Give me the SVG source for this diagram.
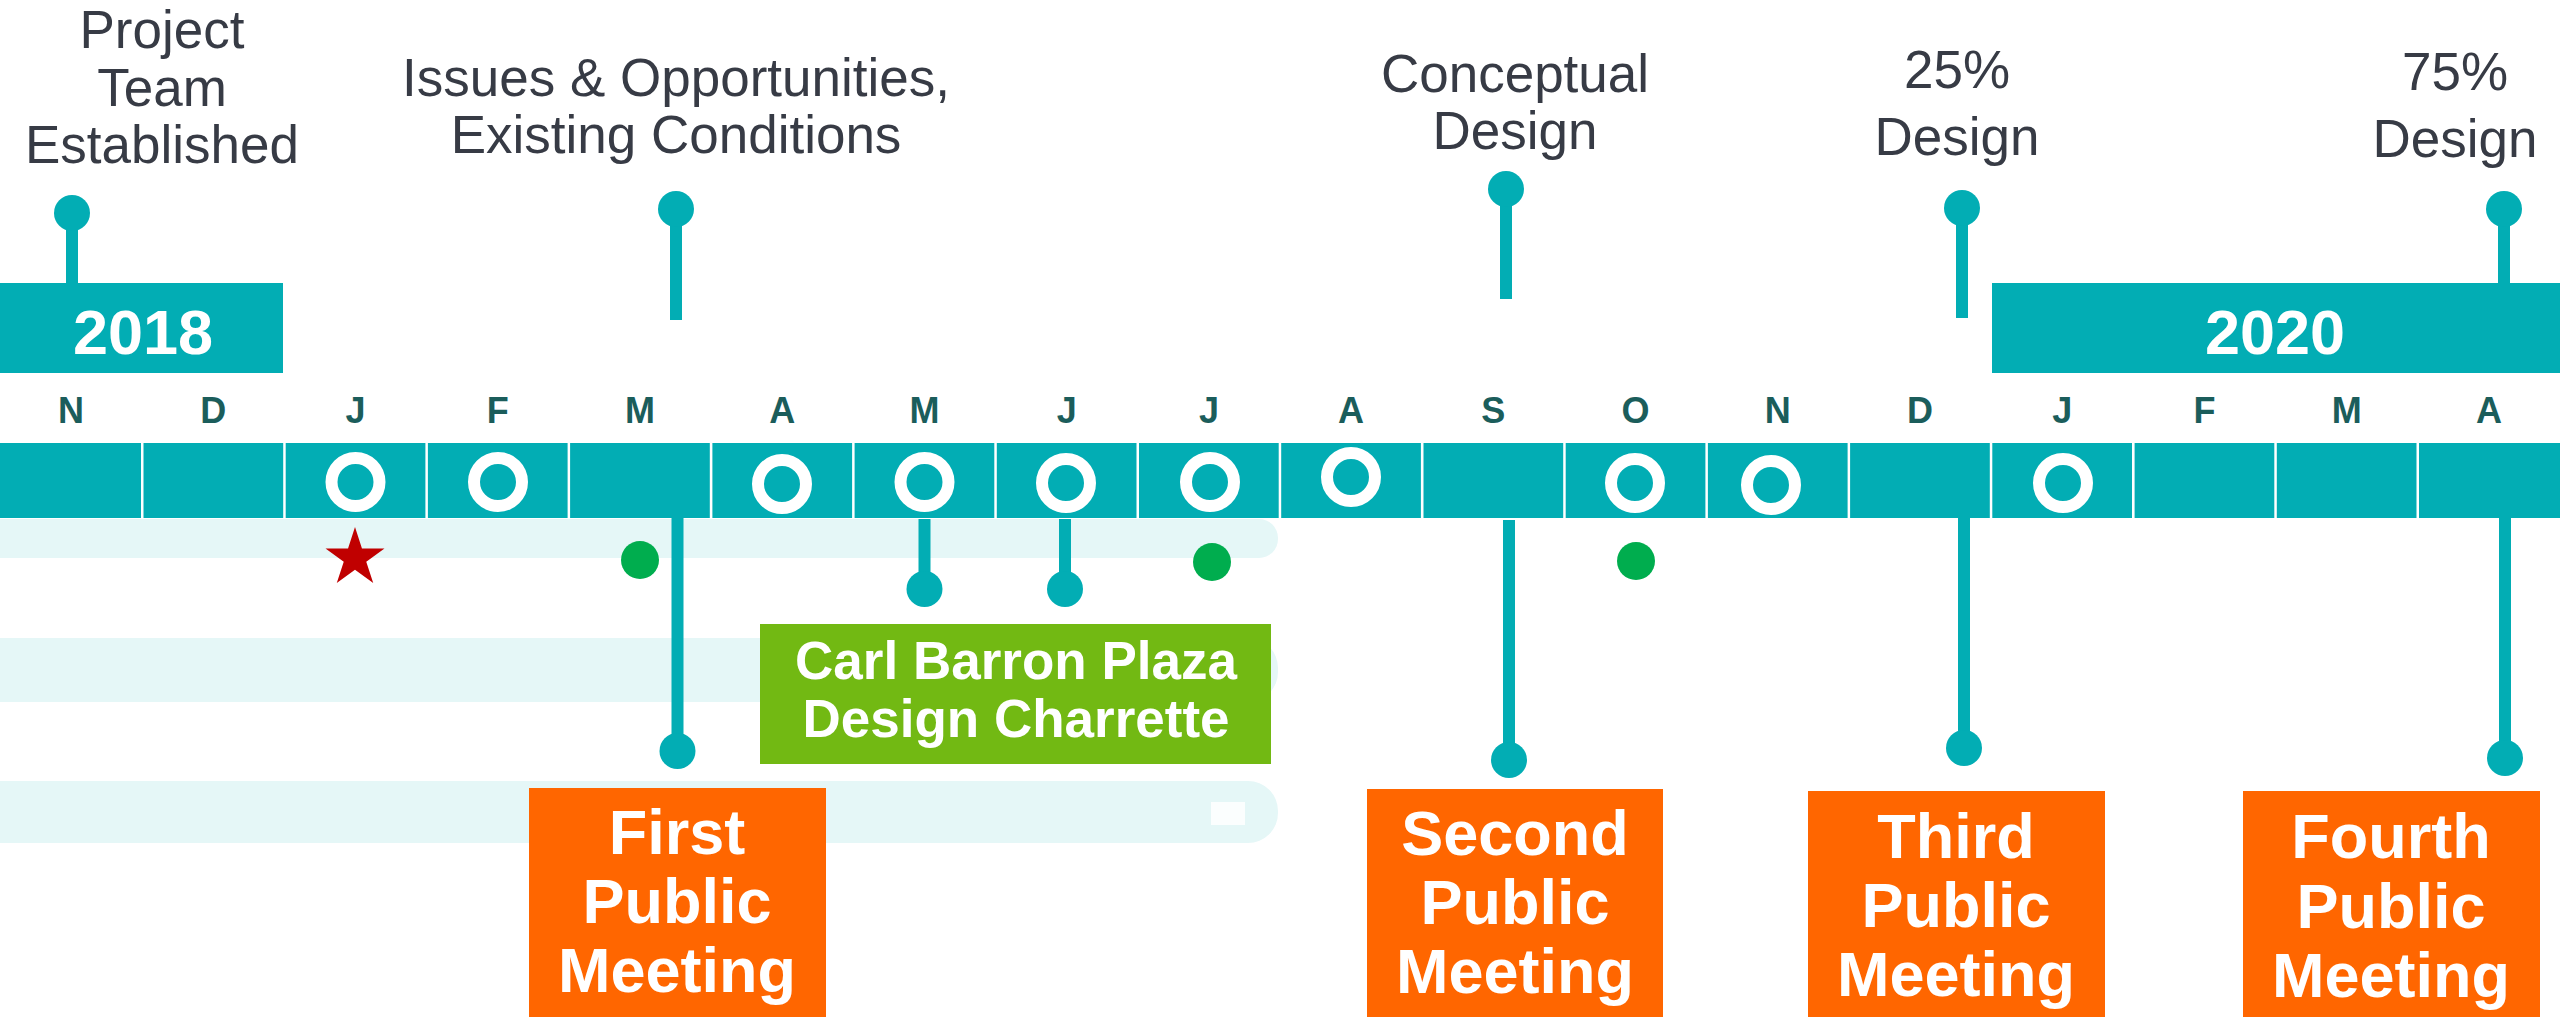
<svg xmlns="http://www.w3.org/2000/svg" width="2560" height="1017" viewBox="0 0 2560 1017">
<style>
.lbl{font-family:"Liberation Sans",Arial,sans-serif;font-size:53px;fill:#373b45;text-anchor:middle}
.yr{font-family:"Liberation Sans",Arial,sans-serif;font-size:63px;font-weight:bold;fill:#fff;text-anchor:middle}
.mo{font-family:"Liberation Sans",Arial,sans-serif;font-size:36px;font-weight:bold;fill:#1b5d5b;text-anchor:middle}
.box{font-family:"Liberation Sans",Arial,sans-serif;font-size:63px;font-weight:bold;fill:#fff;text-anchor:middle}
.gbox{font-family:"Liberation Sans",Arial,sans-serif;font-size:53px;font-weight:bold;fill:#fff;text-anchor:middle}
.cell{fill:#02adb4}
.ring{fill:none;stroke:#fff;stroke-width:12}
.band{fill:#e5f7f7}
.stem{stroke:#02adb4;stroke-width:12;fill:none}
.head{fill:#02adb4}
.dot{fill:#00ad4e}
.orange{fill:#ff6600}
</style>
<rect width="2560" height="1017" fill="#fff"/>
<g id="bands">
<rect class="band" x="-40" y="519" width="1318" height="39" rx="19"/>
<rect class="band" x="-40" y="638" width="1318" height="64" rx="30"/>
<rect class="band" x="-40" y="781" width="1318" height="62" rx="30"/>
<rect x="1211" y="802" width="34" height="23" fill="#fbfefe"/>
</g>
<g id="connectors">
<line class="stem" x1="72" y1="213" x2="72" y2="284"/>
<line class="stem" x1="676" y1="209" x2="676" y2="320"/>
<line class="stem" x1="1506" y1="189" x2="1506" y2="299"/>
<line class="stem" x1="1962" y1="208" x2="1962" y2="318"/>
<line class="stem" x1="2504" y1="209" x2="2504" y2="284"/>
<line class="stem" x1="677.5" y1="517" x2="677.5" y2="751"/>
<line class="stem" x1="924.5" y1="519" x2="924.5" y2="589"/>
<line class="stem" x1="1065" y1="519" x2="1065" y2="589"/>
<line class="stem" x1="1509" y1="520" x2="1509" y2="760"/>
<line class="stem" x1="1964" y1="517" x2="1964" y2="748"/>
<line class="stem" x1="2505" y1="517" x2="2505" y2="758"/>
</g>
<g id="year-2018">
<rect x="0" y="283" width="283" height="90" class="cell"/>
<text class="yr" x="143" y="354">2018</text>
</g>
<g id="year-2020">
<rect x="1992" y="283" width="568" height="90" class="cell"/>
<text class="yr" x="2275" y="354">2020</text>
</g>
<g id="months">
<g id="month-labels">
<text class="mo" x="71.1" y="423">N</text>
<text class="mo" x="213.3" y="423">D</text>
<text class="mo" x="355.6" y="423">J</text>
<text class="mo" x="497.8" y="423">F</text>
<text class="mo" x="640" y="423">M</text>
<text class="mo" x="782.2" y="423">A</text>
<text class="mo" x="924.4" y="423">M</text>
<text class="mo" x="1066.7" y="423">J</text>
<text class="mo" x="1208.9" y="423">J</text>
<text class="mo" x="1351.1" y="423">A</text>
<text class="mo" x="1493.3" y="423">S</text>
<text class="mo" x="1635.6" y="423">O</text>
<text class="mo" x="1777.8" y="423">N</text>
<text class="mo" x="1920" y="423">D</text>
<text class="mo" x="2062.2" y="423">J</text>
<text class="mo" x="2204.4" y="423">F</text>
<text class="mo" x="2346.7" y="423">M</text>
<text class="mo" x="2488.9" y="423">A</text>
</g>
<g id="month-bar">
<rect class="cell" x="0" y="443" width="141" height="75"/>
<rect class="cell" x="143.5" y="443" width="139.7" height="75"/>
<rect class="cell" x="285.7" y="443" width="139.7" height="75"/>
<rect class="cell" x="427.9" y="443" width="139.7" height="75"/>
<rect class="cell" x="570.1" y="443" width="139.7" height="75"/>
<rect class="cell" x="712.4" y="443" width="139.7" height="75"/>
<rect class="cell" x="854.6" y="443" width="139.7" height="75"/>
<rect class="cell" x="996.8" y="443" width="139.7" height="75"/>
<rect class="cell" x="1139" y="443" width="139.7" height="75"/>
<rect class="cell" x="1281.2" y="443" width="139.7" height="75"/>
<rect class="cell" x="1423.5" y="443" width="139.7" height="75"/>
<rect class="cell" x="1565.7" y="443" width="139.7" height="75"/>
<rect class="cell" x="1707.9" y="443" width="139.7" height="75"/>
<rect class="cell" x="1850.1" y="443" width="139.7" height="75"/>
<rect class="cell" x="1992.3" y="443" width="139.7" height="75"/>
<rect class="cell" x="2134.6" y="443" width="139.7" height="75"/>
<rect class="cell" x="2276.8" y="443" width="139.7" height="75"/>
<rect class="cell" x="2419" y="443" width="141" height="75"/>
</g>
<g id="rings">
<circle class="ring" cx="355.5" cy="482" r="24"/>
<circle class="ring" cx="498" cy="482" r="24"/>
<circle class="ring" cx="782" cy="484" r="24"/>
<circle class="ring" cx="924.5" cy="482" r="24"/>
<circle class="ring" cx="1066" cy="483" r="24"/>
<circle class="ring" cx="1210" cy="482" r="24"/>
<circle class="ring" cx="1351" cy="477" r="24"/>
<circle class="ring" cx="1635" cy="483" r="24"/>
<circle class="ring" cx="1771" cy="485" r="24"/>
<circle class="ring" cx="2063" cy="483" r="24"/>
</g>
</g>
<g id="markers">
<polygon points="355,527 361.96,548.42 384.48,548.42 366.26,561.66 373.22,583.08 355,569.84 336.78,583.08 343.74,561.66 325.52,548.42 348.04,548.42" fill="#c00000"/>
<circle class="dot" cx="640" cy="560" r="19"/>
<circle class="dot" cx="1212" cy="562" r="19"/>
<circle class="dot" cx="1636" cy="561" r="19"/>
</g>
<g id="project-team">
<circle class="head" cx="72" cy="213" r="18"/>
<text class="lbl" x="162" y="48">Project</text>
<text class="lbl" x="162" y="106">Team</text>
<text class="lbl" x="162" y="163">Established</text>
</g>
<g id="issues">
<circle class="head" cx="676" cy="209" r="18"/>
<text class="lbl" x="676" y="96">Issues &amp; Opportunities,</text>
<text class="lbl" x="676" y="153">Existing Conditions</text>
</g>
<g id="conceptual">
<circle class="head" cx="1506" cy="189" r="18"/>
<text class="lbl" x="1515" y="92">Conceptual</text>
<text class="lbl" x="1515" y="149">Design</text>
</g>
<g id="design25">
<circle class="head" cx="1962" cy="208" r="18"/>
<text class="lbl" x="1957" y="88">25%</text>
<text class="lbl" x="1957" y="155">Design</text>
</g>
<g id="design75">
<circle class="head" cx="2504" cy="209" r="18"/>
<text class="lbl" x="2455" y="90">75%</text>
<text class="lbl" x="2455" y="157">Design</text>
</g>
<g id="charrette-pins">
<circle class="head" cx="924.5" cy="589" r="18"/>
<circle class="head" cx="1065" cy="589" r="18"/>
</g>
<g id="charrette">
<rect x="760" y="624" width="511" height="140" fill="#72b913"/>
<text class="gbox" x="1016" y="679">Carl Barron Plaza</text>
<text class="gbox" x="1016" y="737">Design Charrette</text>
</g>
<g id="first-meeting">
<circle class="head" cx="677.5" cy="751" r="18"/>
<rect class="orange" x="529" y="788" width="297" height="229"/>
<text class="box" x="677" y="854">First</text>
<text class="box" x="677" y="923">Public</text>
<text class="box" x="677" y="992">Meeting</text>
</g>
<g id="second-meeting">
<circle class="head" cx="1509" cy="760" r="18"/>
<rect class="orange" x="1367" y="789" width="296" height="228"/>
<text class="box" x="1515" y="855">Second</text>
<text class="box" x="1515" y="924">Public</text>
<text class="box" x="1515" y="993">Meeting</text>
</g>
<g id="third-meeting">
<circle class="head" cx="1964" cy="748" r="18"/>
<rect class="orange" x="1808" y="791" width="297" height="226"/>
<text class="box" x="1956" y="858">Third</text>
<text class="box" x="1956" y="927">Public</text>
<text class="box" x="1956" y="996">Meeting</text>
</g>
<g id="fourth-meeting">
<circle class="head" cx="2505" cy="758" r="18"/>
<rect class="orange" x="2243" y="791" width="297" height="226"/>
<text class="box" x="2391" y="858">Fourth</text>
<text class="box" x="2391" y="928">Public</text>
<text class="box" x="2391" y="997">Meeting</text>
</g>
</svg>
